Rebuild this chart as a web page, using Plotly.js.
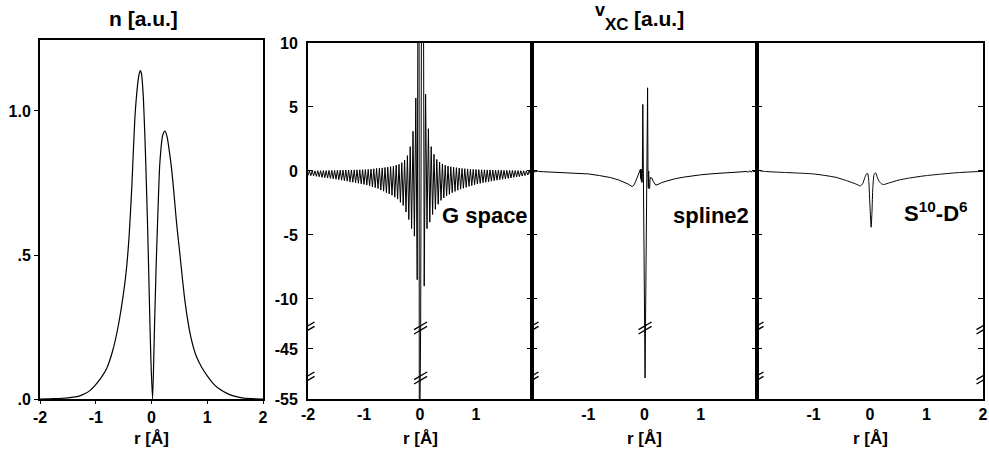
<!DOCTYPE html>
<html><head><meta charset="utf-8">
<script src="https://cdn.plot.ly/plotly-3.0.1.min.js"></script>
<style>html,body{margin:0;padding:0;background:#fff}#chart{width:989px;height:456px}</style>
</head><body><div id="chart"></div>
<script>
// ---- density n(r) ----
const nR = [-2,-1.75,-1.5,-1.3,-1.2,-1.1,-1.0,-0.9,-0.8,-0.7,-0.6,-0.5,-0.45,-0.4,-0.35,-0.3,-0.25,-0.22,-0.2,-0.18,-0.15,-0.12,-0.1,-0.07,-0.04,-0.01,0.02,0.05,0.08,0.11,0.15,0.2,0.24,0.28,0.32,0.36,0.4,0.45,0.5,0.6,0.7,0.8,0.9,1.0,1.1,1.2,1.4,1.6,1.8,2.0];
const nV = [0,0.001,0.004,0.01,0.018,0.03,0.05,0.075,0.108,0.165,0.25,0.37,0.45,0.57,0.75,0.97,1.09,1.13,1.14,1.13,1.06,0.92,0.8,0.6,0.36,0.13,0.0,0.22,0.44,0.62,0.82,0.915,0.93,0.91,0.86,0.8,0.72,0.61,0.52,0.34,0.22,0.15,0.11,0.08,0.055,0.037,0.015,0.005,0.001,0];

// ---- v_xc, G space ----
const gR = [-2,-1.975,-1.95,-1.925,-1.9,-1.875,-1.85,-1.825,-1.8,-1.775,-1.75,-1.725,-1.7,-1.675,-1.65,-1.625,-1.6,-1.575,-1.55,-1.525,
 -1.5,-1.475,-1.45,-1.425,-1.4,-1.375,-1.35,-1.325,-1.3,-1.275,-1.25,-1.225,-1.2,-1.175,-1.15,-1.125,-1.1,-1.075,-1.05,-1.025,
 -1,-0.975,-0.95,-0.925,-0.9,-0.875,-0.85,-0.825,-0.8,-0.775,-0.75,-0.725,-0.7,-0.675,-0.65,-0.625,-0.6,-0.575,-0.55,-0.525,
 -0.5,-0.475,-0.45,-0.425,-0.4,-0.375,-0.35,-0.325,-0.3,-0.275,-0.25,-0.225,-0.2,-0.175,-0.15,-0.125,-0.1,-0.075,-0.05,
 -0.02,-0.012,-0.004,0.012,0.045,
 0.075,0.1,0.125,0.15,0.175,0.2,0.225,0.25,0.275,0.3,0.325,0.35,0.375,0.4,0.425,0.45,0.475,0.5,0.525,0.55,
 0.575,0.6,0.625,0.65,0.675,0.7,0.725,0.75,0.775,0.8,0.825,0.85,0.875,0.9,0.925,0.95,0.975,1,1.025,1.05,
 1.075,1.1,1.125,1.15,1.175,1.2,1.225,1.25,1.275,1.3,1.325,1.35,1.375,1.4,1.425,1.45,1.475,1.5,1.525,1.55,
 1.575,1.6,1.625,1.65,1.675,1.7,1.725,1.75,1.775,1.8,1.825,1.85,1.875,1.9,1.925,1.95,1.975,2];
const gV = [-0.35,0.00,-0.37,0.01,-0.38,0.01,-0.42,0.02,-0.45,0.02,
 -0.50,0.03,-0.52,0.03,-0.55,0.04,-0.58,0.04,-0.61,0.05,
 -0.65,0.05,-0.68,0.06,-0.72,0.06,-0.76,0.07,-0.80,0.07,
 -0.85,0.08,-0.88,0.08,-0.92,0.09,-0.96,0.09,-1.00,0.10,
 -1.05,0.11,-1.10,0.12,-1.16,0.14,-1.25,0.17,-1.30,0.20,
 -1.38,0.22,-1.50,0.24,-1.58,0.27,-1.70,0.30,-1.80,0.34,
 -1.90,0.38,-2.05,0.45,-2.20,0.52,-2.45,0.65,-2.70,0.85,
 -3.20,1.20,-3.80,1.90,-4.50,3.10,-5.10,5.70,-8.50,
 45,-62,-62,-12,45,
 -9.0,6.0,-4.5,3.3,-4.0,1.9,-3.4,1.3,-3.0,0.9,
 -2.6,0.7,-2.3,0.55,-2.1,0.45,-1.95,0.38,-1.82,0.33,
 -1.7,0.29,-1.6,0.26,-1.5,0.23,-1.42,0.2,-1.35,0.18,
 -1.28,0.16,-1.2,0.14,-1.14,0.12,-1.08,0.11,-1.02,0.1,
 -0.97,0.09,-0.92,0.09,-0.88,0.08,-0.84,0.08,-0.8,0.07,
 -0.76,0.07,-0.72,0.06,-0.68,0.06,-0.65,0.05,-0.61,0.05,
 -0.58,0.04,-0.55,0.04,-0.5,0.03,-0.47,0.03,-0.44,0.02,
 -0.4,0.02,-0.36,0.01,-0.32,0.01,-0.28,0.0];

// ---- v_xc, spline2 ----
const s2R = [-2,-1.985,-1.97,-1.955,-1.94,-1.925,-1.91,-1.895,-1.88,
 -1.8,-1.6,-1.4,-1.2,-1.0,-0.8,-0.6,-0.45,-0.35,-0.28,-0.22,-0.19,-0.16,-0.13,-0.1,
 -0.085,-0.075,-0.068,-0.062,-0.056,-0.05,-0.044,-0.038,-0.03,
 0.01,0.055,
 0.062,0.068,0.074,0.08,0.086,0.092,0.1,
 0.13,0.16,0.2,0.24,0.3,0.4,0.55,0.7,0.85,1.0,1.2,1.4,1.6,1.75,
 1.82,1.845,1.87,1.895,1.92,1.945,1.97,2];
const s2V = [0,-0.1,0.02,-0.1,0.01,-0.08,0,-0.06,-0.04,
 -0.06,-0.1,-0.14,-0.18,-0.23,-0.36,-0.52,-0.72,-0.9,-1.05,-1.22,-1.12,-0.85,-0.5,-0.2,
 -0.05,0.1,-0.6,0.15,-0.8,0.1,-0.9,-0.2,5.2,
 -53,6.5,
 -0.3,-1.3,0.0,-1.4,-0.1,-1.3,-0.5,
 -0.55,-0.85,-1.1,-1.05,-0.92,-0.78,-0.6,-0.48,-0.38,-0.3,-0.22,-0.15,-0.1,-0.06,
 -0.04,-0.1,0.02,-0.1,0.02,-0.08,0.01,0];

// ---- v_xc, S10-D6 ----
const sdR = [-2,-1.97,-1.93,-1.85,-1.7,-1.5,-1.25,-1.0,-0.8,-0.6,-0.4,-0.25,-0.17,-0.13,-0.09,-0.06,-0.04,-0.02,0.0,0.02,0.035,0.05,0.07,0.09,0.105,0.125,0.16,0.2,0.24,0.35,0.5,0.7,1.0,1.25,1.5,1.75,2.0];
const sdV = [0.02,0.05,0.0,-0.04,-0.08,-0.12,-0.17,-0.23,-0.35,-0.5,-0.78,-1.02,-1.17,-1.0,-0.5,-0.22,-0.2,-0.9,-2.8,-4.4,-3.2,-1.3,-0.3,-0.15,-0.18,-0.45,-0.8,-1.0,-1.06,-0.92,-0.72,-0.55,-0.36,-0.25,-0.15,-0.08,-0.03];

// ---- ticks ----
const nTickVals = [0, 0.5, 1.0];
const nTickText = ['.0', '.5', '1.0'];
const vTickVals = [10, 5, 0, -5, -10, -45, -55];
const vTickText = ['10', '5', '0', '-5', '-10', '-45', '-55'];
const rTickVals = [-2, -1, 0, 1, 2];
const rTickText = ['-2', '-1', '0', '1', '2'];
const panelLabels = ['G space', 'spline2', 'S<sup>10</sup>-D<sup>6</sup>'];

// broken y axis: top segment (to -12.27), middle segment around -45, bottom segment to -55
const TOP_END = -12.27, MID_TOP = -43.36, MID_BOT = -47.27, LOW_TOP = -53.36;
function ymap(v) {
  if (v >= TOP_END) return v;
  if (v > MID_TOP) return TOP_END;
  if (v >= MID_BOT) return TOP_END + (v - MID_TOP);
  if (v > LOW_TOP) return TOP_END + (MID_BOT - MID_TOP);
  return TOP_END + (MID_BOT - MID_TOP) + (v - LOW_TOP);
}
const BREAK1 = ymap(TOP_END), BREAK2 = ymap(MID_BOT);

const W = 989, H = 456;
const px = x => x / W, py = y => 1 - y / H;
const FONT = 'Liberation Sans, Arial, Helvetica, sans-serif';
const tickFont = {family: FONT, size: 16, color: '#000', weight: 'bold'};
const line = {color: '#000', width: 1};

const traces = [
  {x: nR, y: nV, xaxis: 'x', yaxis: 'y', mode: 'lines', line: {color: '#000', width: 1.2, shape: 'spline', smoothing: 0.6}},
  {x: gR, y: gV.map(ymap), xaxis: 'x2', yaxis: 'y2', mode: 'lines', line: line},
  {x: s2R, y: s2V.map(ymap), xaxis: 'x3', yaxis: 'y3', mode: 'lines', line: line},
  {x: sdR, y: sdV.map(ymap), xaxis: 'x4', yaxis: 'y4', mode: 'lines', line: {color: '#000', width: 1, shape: 'spline', smoothing: 0.5}}
];

const vx = [[308, 532], [532, 757], [757, 983]];
const vShown = [[-2, -1, 0, 1], [-1, 0, 1], [-1, 0, 1, 2]];
const layout = {
  width: W, height: H, margin: {l: 0, r: 0, t: 0, b: 0},
  paper_bgcolor: '#fff', plot_bgcolor: '#fff', showlegend: false,
  xaxis: {domain: [px(40), px(263)], range: [-2, 2], anchor: 'y', showgrid: false, zeroline: false,
    showline: true, mirror: true, linewidth: 2, linecolor: '#000', ticks: 'outside', ticklen: 3, tickcolor: '#000',
    tickvals: rTickVals, ticktext: rTickText, tickfont: tickFont},
  yaxis: {domain: [py(399), py(40)], range: [0, 1.2465], anchor: 'x', showgrid: false, zeroline: false,
    showline: true, mirror: true, linewidth: 2, linecolor: '#000', ticks: 'outside', ticklen: 4, tickcolor: '#000',
    tickvals: nTickVals, ticktext: nTickText, tickfont: tickFont},
  shapes: [], annotations: []
};
const yr = [ymap(-55), 10];
for (let i = 0; i < 3; i++) {
  const k = i + 2;
  layout['xaxis' + k] = {domain: [px(vx[i][0]), px(vx[i][1])], range: [-2, 2], anchor: 'y' + k,
    showgrid: false, zeroline: false, showline: true, mirror: true, linewidth: 2, linecolor: '#000',
    ticks: '', tickvals: vShown[i], ticktext: vShown[i].map(v => rTickText[rTickVals.indexOf(v)]), tickfont: tickFont};
  layout['yaxis' + k] = {domain: [py(399), py(43)], range: yr, anchor: 'x' + k,
    showgrid: false, zeroline: false, showline: true, mirror: 'ticks', linewidth: 2, linecolor: '#000',
    ticks: 'inside', ticklen: 5, tickwidth: 1, tickcolor: '#000',
    tickvals: vTickVals.map(ymap), ticktext: vTickText, showticklabels: i === 0, ticklabelstandoff: 5, tickfont: tickFont};
}

// break marks "//"
function brk(xr, yr2, xv, yv) {
  [2.2, -2.2].forEach(off => {
    layout.shapes.push({type: 'line', xref: xr, yref: yr2, xsizemode: 'pixel', ysizemode: 'pixel',
      xanchor: xv, yanchor: yv, x0: -6.5, x1: 6.5, y0: off - 3.8, y1: off + 3.8,
      line: {color: '#000', width: 1.4}});
  });
}
for (let i = 0; i < 3; i++) {
  const k = i + 2;
  [BREAK1, BREAK2].forEach(b => brk('x' + k, 'y' + k, -2, b));
}
[BREAK1, BREAK2].forEach(b => brk('x4', 'y4', 2, b));
[BREAK1, BREAK2].forEach(b => brk('x2', 'y2', 0.01, b));
brk('x3', 'y3', 0.01, BREAK1);

const ann = (text, x, y, size) => ({text, x: px(x), y: py(y), xref: 'paper', yref: 'paper', showarrow: false,
  xanchor: 'center', yanchor: 'middle', font: {family: FONT, size, color: '#000', weight: 'bold'}});
layout.annotations.push(ann('n [a.u.]', 143, 19, 21));
layout.annotations.push(ann('v', 600, 10, 18));
layout.annotations.push(ann('XC', 617, 24.5, 17));
layout.annotations.push(ann('[a.u.]', 659, 19, 21));
[151.5, 420, 644.5, 870].forEach(x => layout.annotations.push(ann('r [Å]', x, 438, 17)));
layout.annotations.push(ann(panelLabels[0], 485, 216, 22));
layout.annotations.push(ann(panelLabels[1], 710.5, 216, 22));
layout.annotations.push(ann(panelLabels[2], 935.5, 212, 22));

Plotly.newPlot('chart', traces, layout, {staticPlot: true, displayModeBar: false});
</script></body></html>
